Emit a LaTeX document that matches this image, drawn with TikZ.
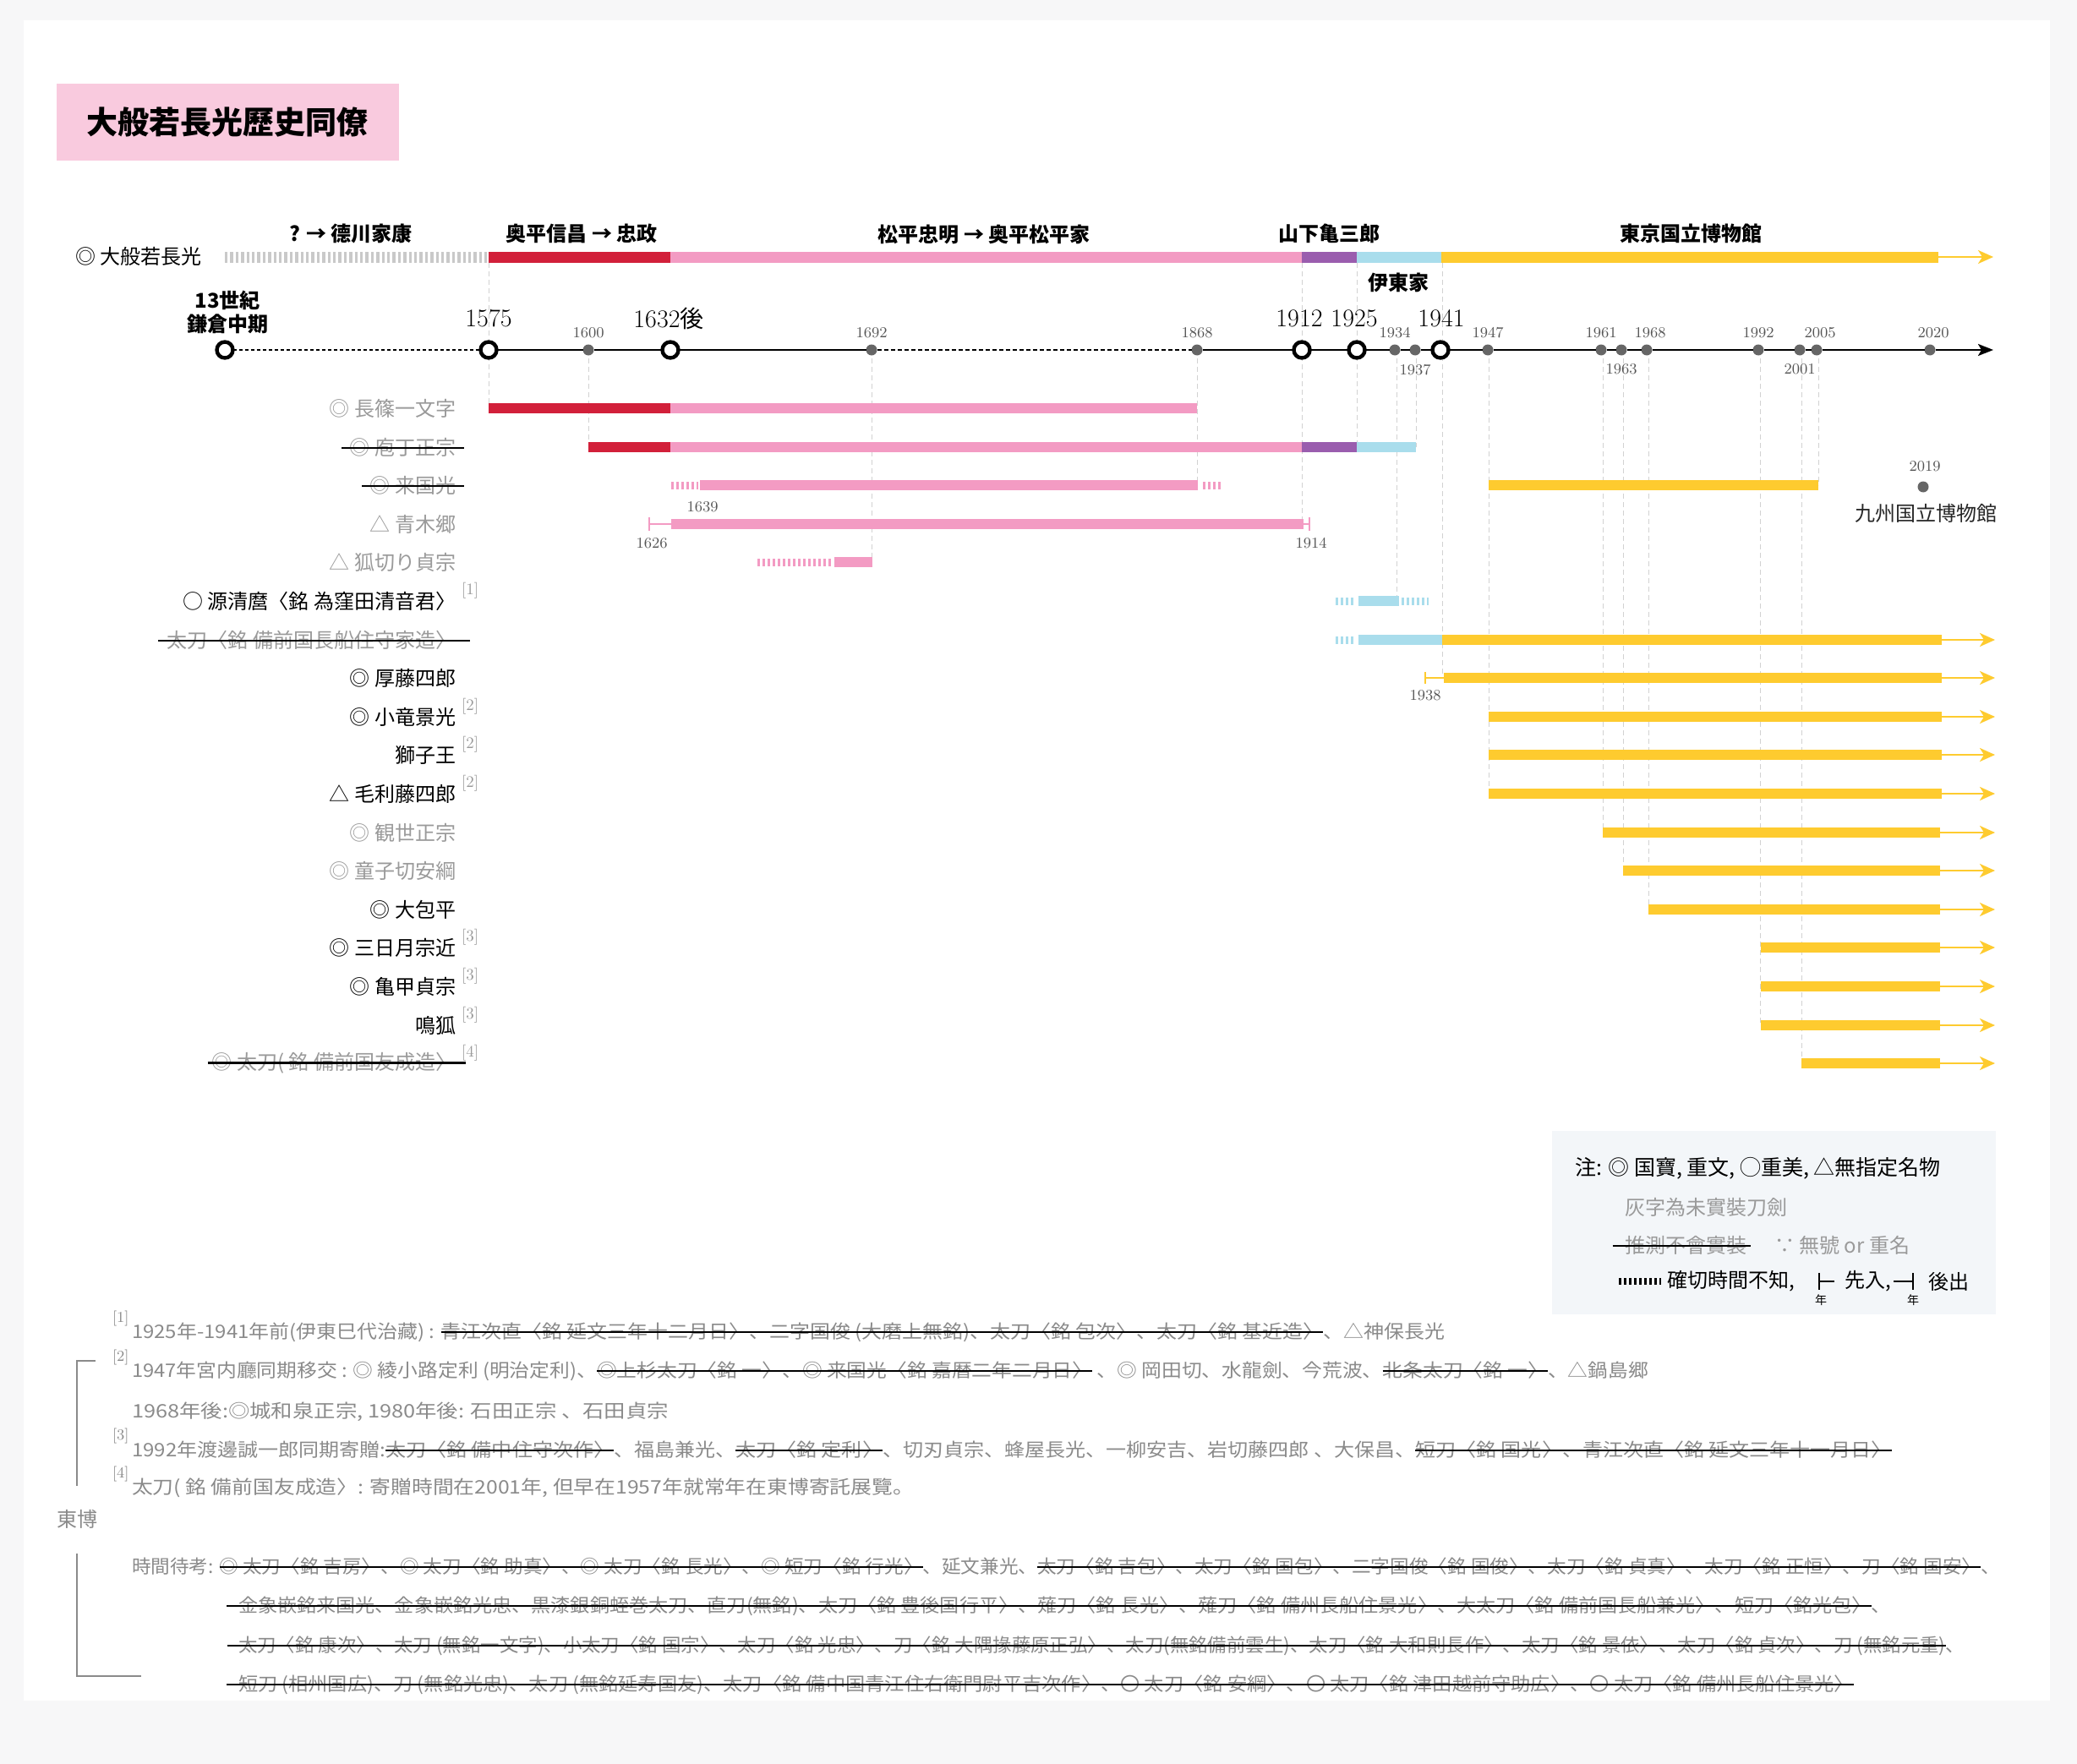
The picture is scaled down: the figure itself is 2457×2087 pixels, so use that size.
\documentclass[tikz,border=0pt]{standalone}
\usepackage{fontspec}
\usepackage{graphicx}
\newfontfamily\cjk{Noto Sans CJK JP}
\usetikzlibrary{arrows.meta}
\definecolor{bred}{HTML}{D2203A}
\definecolor{bpink}{HTML}{F39BC3}
\definecolor{bpurple}{HTML}{9A5DAE}
\definecolor{bblue}{HTML}{A9DDEC}
\definecolor{byellow}{HTML}{FECB2F}
\definecolor{bgray}{HTML}{C9C9C9}
\definecolor{titlepink}{HTML}{F9CADE}
\definecolor{legbg}{HTML}{F3F6F9}
\definecolor{txtgray}{HTML}{9A9A9A}
\definecolor{fngray}{HTML}{8A8A8A}
\definecolor{dotgray}{HTML}{666666}
\definecolor{yrgray}{HTML}{555555}
\definecolor{pagebg}{HTML}{F7F7F8}
\newcommand\fsz[1]{\fontsize{#1pt}{#1pt}\selectfont}
\newsavebox\strkbox
\newcommand\strkg[3]{\sbox\strkbox{#3}\usebox\strkbox\llap{{\color{black}\rule[0.3em]{\dimexpr\wd\strkbox+#1+#2\relax}{0.09em}}\kern-#2}}
\newcommand\strk[1]{\strkg{0pt}{0pt}{#1}}
\newsavebox\fitbox
\newlength\fitlen
\newcommand\fitw[2]{\sbox\fitbox{#2}\setlength\fitlen{\wd\fitbox}\pgfmathsetmacro\fitsc{#1*0.5/\fitlen}\scalebox{\fitsc}[1]{\usebox\fitbox}}
\newcommand\tbar[4]{\fill[#1] (#2,#3-6) rectangle (#4,#3+6);}
\newcommand\tdots[4]{\draw[#1,dotbar] (#2,#3) -- (#4,#3);}
\begin{document}
\begin{tikzpicture}[x=0.5pt,y=-0.5pt,
  every node/.style={inner sep=0pt, outer sep=0pt, font=\cjk\fsz{12}},
  lblg/.style={anchor=east, text=txtgray},
  lblk/.style={anchor=east, text=black},
  supn/.style={anchor=west, font=\rmfamily\fsz{9.5}, text=txtgray},
  bigyr/.style={font=\rmfamily\fsz{15}},
  smyr/.style={font=\rmfamily\fsz{9}, text=yrgray},
  toplbl/.style={font=\cjk\bfseries\fsz{12}},
  guide/.style={draw=gray!35, line width=0.4pt, dash pattern=on 3pt off 2pt},
  fn/.style={anchor=west, text=fngray, font=\cjk\fsz{11}},
  fnm/.style={anchor=west, font=\rmfamily\fsz{9}, text=fngray},
  bigc/.style={circle, draw=black, line width=2.2pt, fill=white, minimum size=9.5pt},
  smd/.style={circle, fill=dotgray, minimum size=6.5pt},
  axsolid/.style={line width=1.3pt, draw=black},
  axthin/.style={line width=0.6pt, draw=black, dash pattern=on 2pt off 1.5pt},
  axdot/.style={line width=1.3pt, draw=black, dash pattern=on 2.5pt off 1.5pt},
  barrow/.style={draw=byellow, line width=1.2pt, -{Stealth[length=9pt,width=8pt,inset=2.5pt]}},
  dotbar/.style={line width=4.5pt, dash pattern=on 1.5pt off 1.5pt},
  tick/.style={line width=0.8pt}
]
\useasboundingbox (0,0) rectangle (2457,2087);
\fill[pagebg] (0,0) rectangle (2457,2087);
\fill[white] (28,24) rectangle (2425,2012);

% title
\fill[titlepink] (67,99) rectangle (472,190);
\node[anchor=west, font=\cjk\bfseries\fsz{18.5}] (title) at (102,144) {大般若長光歷史同僚};

% guides
\foreach \gx/\gy/\gz in {578/311/483, 696/414/529, 1031/414/665, 1416/414/574, 1540/311/620, 1605/311/529, 1652/414/711, 1675/414/529, 1706/311/802, 1761/414/939, 1896/414/985, 1920/414/1030, 1950/414/1076, 2082/414/1213, 2131/414/1258, 2151/414/574}
  \draw[guide] (\gx,\gy) -- (\gx,\gz);

% top bar
\node[anchor=west, text=black] (mainlbl) at (89,303) {◎ 大般若長光};
\draw[bgray, line width=6.5pt, dash pattern=on 1.7pt off 1.5pt] (266,304) -- (576,304);
\fill[bred] (578,297.5) rectangle (793,310.5);
\fill[bpink] (793,297.5) rectangle (1540,310.5);
\fill[bpurple] (1540,297.5) rectangle (1605,310.5);
\fill[bblue] (1605,297.5) rectangle (1705,310.5);
\fill[byellow] (1705,297.5) rectangle (2293,310.5);
\coordinate (topA) at (2292,304);
\coordinate (topB) at (2358,304);
\draw[barrow] (topA) -- (topB);
\node[toplbl] (o1) at (415,276) {? → 德川家康};
\node[toplbl] (o2) at (688,276) {奥平信昌 → 忠政};
\node[toplbl] (o3) at (1164,277) {松平忠明 → 奥平松平家};
\node[toplbl] (o4) at (1572,276) {山下亀三郎};
\node[toplbl] (o5) at (1654,334) {伊東家};
\node[toplbl] (o6) at (2000,276) {東京国立博物館};

% axis
\node[bigc] (a13) at (266,414) {};
\node[bigc] (a1575) at (578,414) {};
\node[smd] (a1600) at (696,414) {};
\node[bigc] (a1632) at (793,414) {};
\node[smd] (a1692) at (1031,414) {};
\node[smd] (a1868) at (1416,414) {};
\node[bigc] (a1912) at (1540,414) {};
\node[bigc] (a1925) at (1605,414) {};
\node[smd] (a1934) at (1650,414) {};
\node[smd] (a1937) at (1674,414) {};
\node[bigc] (a1941) at (1704,414) {};
\node[smd] (a1947) at (1760,414) {};
\node[smd] (a1961) at (1894,414) {};
\node[smd] (a1963) at (1918,414) {};
\node[smd] (a1968) at (1948,414) {};
\node[smd] (a1992) at (2080,414) {};
\node[smd] (a2001) at (2129,414) {};
\node[smd] (a2005) at (2149,414) {};
\node[smd] (a2020) at (2283,414) {};
\coordinate (aend) at (2358,414);
\draw[axthin] (a13) -- (a1575);
\draw[axsolid] (a1575) -- (a1600) -- (a1632) -- (a1692);
\draw[axdot] (a1692) -- (a1868);
\draw[axsolid] (a1868) -- (a1912) -- (a1925) -- (a1934) -- (a1937) -- (a1941) -- (a1947) -- (a1961) -- (a1963) -- (a1968) -- (a1992) -- (a2001) -- (a2005) -- (a2020);
\draw[axsolid, -{Stealth[length=9pt,width=7pt,inset=2pt]}] (a2020) -- (aend);

\node[font=\cjk\bfseries\fsz{12}] (l13a) at (269,355) {13世紀};
\node[font=\cjk\bfseries\fsz{12}] (l13b) at (269,383) {鎌倉中期};
\node[bigyr] (l1575) at (578,377) {1575};
\node[bigyr] (l1632) at (791,377) {1632\cjk\fsz{14}後};
\node[bigyr] (l1912) at (1537,377) {1912};
\node[bigyr] (l1925) at (1602,377) {1925};
\node[bigyr] (l1941) at (1705,377) {1941};
\node[smyr] (l1600) at (696,394) {1600};
\node[smyr] (l1692) at (1031,394) {1692};
\node[smyr] (l1868) at (1416,394) {1868};
\node[smyr] (l1934) at (1650,394) {1934};
\node[smyr] (l1937) at (1674,438) {1937};
\node[smyr] (l1947) at (1760,394) {1947};
\node[smyr] (l1961) at (1894,394) {1961};
\node[smyr] (l1963) at (1918,437) {1963};
\node[smyr] (l1968) at (1952,394) {1968};
\node[smyr] (l1992) at (2080,394) {1992};
\node[smyr] (l2001) at (2129,437) {2001};
\node[smyr] (l2005) at (2153,394) {2005};
\node[smyr] (l2020) at (2287,394) {2020};

% row labels
\node[lblg] (r0) at (539,483) {◎ 長篠一文字};
\node[lblg] (r1) at (539,529) {\strkg{0.4em}{0.4em}{◎ 庖丁正宗}};
\node[lblg] (r2) at (539,574) {\strkg{0.4em}{0.4em}{◎ 来国光}};
\node[lblg] (r3) at (539,620) {△ 青木郷};
\node[lblg] (r4) at (539,665) {△ 狐切り貞宗};
\node[lblk] (r5) at (539,711) {○ 源清麿〈銘 為窪田清音君〉};
\node[supn] (s5) at (546,699) {[1]};
\node[lblg] (r6) at (539,757) {\strkg{0.45em}{0.7em}{太刀〈銘 備前国長船住守家造〉}};
\node[lblk] (r7) at (539,802) {◎ 厚藤四郎};
\node[lblk] (r8) at (539,848) {◎ 小竜景光};
\node[supn] (s8) at (546,836) {[2]};
\node[lblk] (r9) at (539,893) {獅子王};
\node[supn] (s9) at (546,881) {[2]};
\node[lblk] (r10) at (539,939) {△ 毛利藤四郎};
\node[supn] (s10) at (546,927) {[2]};
\node[lblg] (r11) at (539,985) {◎ 観世正宗};
\node[lblg] (r12) at (539,1030) {◎ 童子切安綱};
\node[lblk] (r13) at (539,1076) {◎ 大包平};
\node[lblk] (r14) at (539,1121) {◎ 三日月宗近};
\node[supn] (s14) at (546,1109) {[3]};
\node[lblk] (r15) at (539,1167) {◎ 亀甲貞宗};
\node[supn] (s15) at (546,1155) {[3]};
\node[lblk] (r16) at (539,1213) {鳴狐};
\node[supn] (s16) at (546,1201) {[3]};
\node[lblg] (r17) at (539,1258) {\strkg{0.2em}{0.5em}{◎ 太刀( 銘 備前国友成造〉}};
\node[supn] (s17) at (546,1246) {[4]};

% bars
\tbar{bred}{578}{483}{793}
\tbar{bpink}{793}{483}{1416}
\tbar{bred}{696}{529}{793}
\tbar{bpink}{793}{529}{1540}
\tbar{bpurple}{1540}{529}{1605}
\tbar{bblue}{1605}{529}{1675}
\tdots{bpink}{794}{574}{826}
\tbar{bpink}{828}{574}{1417}
\tdots{bpink}{1423}{574}{1446}
\node[smyr] (y1639) at (831,600) {1639};
\tbar{byellow}{1761}{574}{2151}
\node[smd] (d2019) at (2275,576) {};
\node[smyr] (y2019) at (2277,552) {2019};
\node[text=black!85] (kyu) at (2278,607) {九州国立博物館};
\draw[bpink, tick] (768,612) -- (768,628);
\draw[bpink, tick] (768,620) -- (794,620);
\tbar{bpink}{794}{620}{1542}
\draw[bpink, tick] (1542,620) -- (1549,620);
\draw[bpink, tick] (1549,612) -- (1549,628);
\node[smyr] (y1626) at (771,643) {1626};
\node[smyr] (y1914) at (1551,643) {1914};
\tdots{bpink}{896}{665}{984}
\tbar{bpink}{987}{665}{1032}
\tdots{bblue}{1580}{711}{1604}
\tbar{bblue}{1607}{711}{1655}
\tdots{bblue}{1658}{711}{1690}
\tdots{bblue}{1580}{757}{1604}
\tbar{bblue}{1607}{757}{1706}
\tbar{byellow}{1706}{757}{2297}
\draw[byellow, tick] (1686,795) -- (1686,809);
\draw[byellow, tick] (1686,802) -- (1708,802);
\tbar{byellow}{1708}{802}{2297}
\node[smyr] (y1938) at (1686,823) {1938};
\tbar{byellow}{1761}{848}{2297}
\tbar{byellow}{1761}{893}{2297}
\tbar{byellow}{1761}{939}{2297}
\tbar{byellow}{1896}{985}{2295}
\tbar{byellow}{1920}{1030}{2295}
\tbar{byellow}{1950}{1076}{2295}
\tbar{byellow}{2083}{1121}{2295}
\tbar{byellow}{2083}{1167}{2295}
\tbar{byellow}{2083}{1213}{2295}
\tbar{byellow}{2131}{1258}{2295}
\foreach \ry/\rx in {757/2297, 802/2297, 848/2297, 893/2297, 939/2297, 985/2295, 1030/2295, 1076/2295, 1121/2295, 1167/2295, 1213/2295, 1258/2295}{
  \coordinate (ba\ry) at (\rx,\ry);
  \coordinate (bb\ry) at (2360,\ry);
  \draw[barrow] (ba\ry) -- (bb\ry);
}

% legend
\fill[legbg] (1836,1338) rectangle (2361,1555);
\node[anchor=west, font=\cjk\fsz{12.5}] (g1) at (1863,1382) {注: ◎ 国寶, 重文, ◯重美,  △無指定名物};
\node[anchor=west, text=txtgray] (g2) at (1922,1428) {灰字為未實裝刀劍};
\node[anchor=west, text=txtgray] (g3) at (1922,1473) {\strkg{0.6em}{0.2em}{推測不會實裝}};
\node[anchor=west, text=txtgray] (g3b) at (2099,1473) {∵ 無號 or 重名};
\coordinate (gd1) at (1915,1516);
\coordinate (gd2) at (1965,1516);
\draw[black, dotbar, line width=4pt] (gd1) -- (gd2);
\node[anchor=west] (g4) at (1972,1516) {確切時間不知,};
\draw[black, line width=1pt] (2152,1506) -- (2152,1526);
\draw[black, line width=1pt] (2152,1516) -- (2170,1516);
\node[font=\cjk\fsz{7}] (gy1) at (2154,1538) {年};
\node[anchor=west] (g5) at (2182,1516) {先入,};
\draw[black, line width=1pt] (2240,1516) -- (2263,1516);
\draw[black, line width=1pt] (2263,1506) -- (2263,1526);
\node[font=\cjk\fsz{7}] (gy2) at (2263,1538) {年};
\node[anchor=west] (g6) at (2281,1516) {後出};

% footnotes
\node[fnm] (m1) at (133,1560) {[1]};
\node[fn] (f1) at (156,1576) {\fitw{1553}{1925年-1941年前(伊東巳代治藏) : \strk{青江次直〈銘 延文三年十二月日〉、二字国俊 (大磨上無銘)、太刀〈銘 包次〉、太刀〈銘 基近造〉}、△神保長光}};
\node[fnm] (m2) at (133,1606) {[2]};
\node[fn] (f2) at (156,1622) {\fitw{1794}{1947年宮内廳同期移交 : ◎ 綾小路定利 (明治定利)、\strk{◎上杉太刀〈銘 一〉、◎ 来国光〈銘 嘉暦二年二月日〉} 、◎ 岡田切、水龍劍、今荒波、\strk{北条太刀〈銘 一〉}、△鍋島郷}};
\node[fn] (f2b) at (156,1670) {\fitw{635}{1968年後:◎城和泉正宗, 1980年後: 石田正宗 、石田貞宗}};
\node[fnm] (m3) at (133,1699) {[3]};
\node[fn] (f3) at (156,1715) {\fitw{2082}{1992年渡邊誠一郎同期寄贈:\strk{太刀〈銘 備中住守次作〉}、福島兼光、\strk{太刀〈銘 定利〉}、切刃貞宗、蜂屋長光、一柳安吉、岩切藤四郎 、大保昌、\strk{短刀〈銘 国光〉、青江次直〈銘 延文三年十一月日〉}}};
\node[fnm] (m4) at (133,1744) {[4]};
\node[fn] (f4) at (156,1760) {\fitw{925}{太刀( 銘 備前国友成造〉: 寄贈時間在2001年, 但早在1957年就常年在東博寄託展覽。}};
\coordinate (br1a) at (113,1610);
\coordinate (br1b) at (91,1610);
\coordinate (br1c) at (91,1758);
\draw[fngray, line width=1pt] (br1a) -- (br1b) -- (br1c);
\node[anchor=west, text=fngray] (tohaku) at (67,1797) {東博};
\coordinate (br2a) at (91,1838);
\coordinate (br2b) at (91,1983);
\coordinate (br2c) at (167,1983);
\draw[fngray, line width=1pt] (br2a) -- (br2b) -- (br2c);
\node[fn] (b1) at (156,1853) {\fitw{2210}{時間待考: \strk{◎ 太刀〈銘 吉房〉、◎ 太刀〈銘 助真〉、◎ 太刀〈銘 長光〉、◎ 短刀〈銘 行光〉}、延文兼光、\strk{太刀〈銘 吉包〉、太刀〈銘 国包〉、二字国俊〈銘 国俊〉、太刀〈銘 貞真〉、太刀〈銘 正恒〉、刀〈銘 国安〉}、}};
\node[fn] (b2) at (282,1900) {\fitw{1955}{\strkg{0.6em}{0pt}{金象嵌銘来国光、金象嵌銘光忠、黒漆銀銅蛭巻太刀、直刀(無銘)、太刀〈銘 豊後国行平〉、薙刀〈銘 長光〉、薙刀〈銘 備州長船住景光〉、大太刀〈銘 備前国長船兼光〉、短刀〈銘光包〉}、}};
\node[fn] (b3) at (282,1947) {\fitw{2042}{\strkg{0.6em}{0pt}{太刀〈銘 康次〉、太刀 (無銘一文字)、小太刀〈銘 国宗〉、太刀〈銘 光忠〉、刀〈銘 大隅掾藤原正弘〉、太刀(無銘備前雲生)、太刀〈銘 大和則長作〉、太刀〈銘 景依〉、太刀〈銘 貞次〉、刀 (無銘元重)}、}};
\node[fn] (b4) at (282,1993) {\fitw{1911}{\strkg{0.6em}{0pt}{短刀 (相州国広)、刀 (無銘光忠)、太刀 (無銘延寿国友)、太刀〈銘 備中国青江住右衛門尉平吉次作〉、〇 太刀〈銘 安綱〉、〇 太刀〈銘 津田越前守助広〉、〇 太刀〈銘 備州長船住景光〉}}};
\end{tikzpicture}
\end{document}
